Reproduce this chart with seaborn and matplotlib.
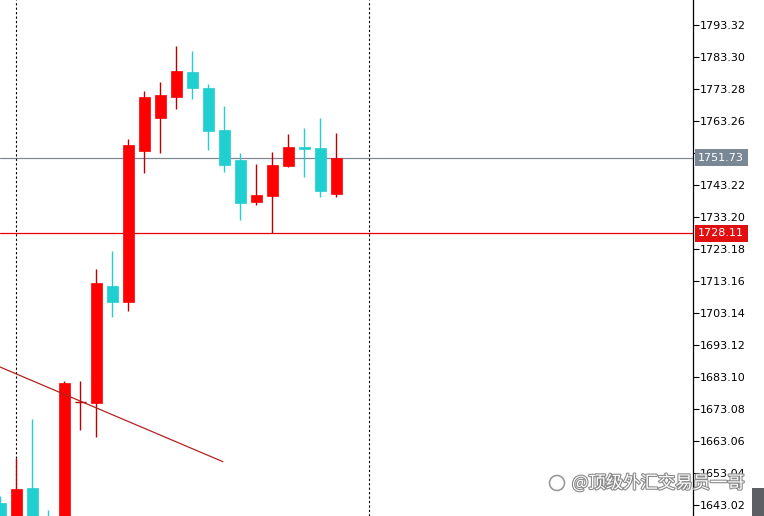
import numpy as np
import pandas as pd
import matplotlib
matplotlib.use("Agg")
import matplotlib.pyplot as plt
import seaborn as sns
from matplotlib import patheffects as pe
from matplotlib.patches import Rectangle, Ellipse
from matplotlib.transforms import blended_transform_factory

# ---- data ----
opens  = [1643.6, 1634.0, 1648.3, 1638.5, 1634.0, 1675.3, 1675.0, 1711.6, 1706.5, 1754.0, 1764.3,
          1770.9, 1778.7, 1773.7, 1760.5, 1751.0, 1738.0, 1739.8, 1749.2, 1755.0, 1754.9, 1740.4]
highs  = [1645.8, 1657.7, 1670.0, 1641.4, 1681.9, 1681.8, 1716.9, 1722.6, 1757.5, 1772.7, 1775.5,
          1786.8, 1785.3, 1775.0, 1768.0, 1753.3, 1749.8, 1753.6, 1759.1, 1761.2, 1764.1, 1759.4]
lows   = [1628.0, 1630.0, 1632.0, 1630.0, 1632.0, 1666.5, 1664.4, 1702.0, 1703.8, 1747.0, 1753.3,
          1767.0, 1770.2, 1754.3, 1747.4, 1732.3, 1737.0, 1728.1, 1748.8, 1745.8, 1739.6, 1739.4]
closes = [1632.0, 1648.0, 1636.0, 1634.0, 1681.1, 1675.3, 1712.6, 1706.7, 1755.7, 1770.9, 1771.4,
          1778.9, 1773.7, 1760.2, 1749.5, 1737.7, 1740.1, 1749.5, 1755.2, 1754.5, 1741.3, 1751.73]

ytick_values = [1643.02, 1653.04, 1663.06, 1673.08, 1683.10, 1693.12, 1703.14, 1713.16,
                1723.18, 1733.20, 1743.22, 1753.24, 1763.26, 1773.28, 1783.30, 1793.32]
ytick_labels = ["1643.02", "1653.04", "1663.06", "1673.08", "1683.10", "1693.12", "1703.14", "1713.16",
                "1723.18", "1733.20", "1743.22", "1753.24", "1763.26", "1773.28", "1783.30", "1793.32"]

bid_price = 1751.73
level_price = 1728.11
trend_x = [-0.03, 13.9]
trend_y = [1686.23, 1656.58]
separators = [1, 23]
watermark = "@顶级外汇交易员一哥"

UP = "#ff0000"
UP_WICK = "#c00000"
DOWN = "#20cfcf"

df = pd.DataFrame({"open": opens, "high": highs, "low": lows, "close": closes})
df["idx"] = np.arange(len(df))
df["up"] = df["close"] >= df["open"]

# ---- figure ----
sns.set_theme(style="white")
plt.rcParams["font.family"] = ["DejaVu Sans"]
fig = plt.figure(figsize=(7.64, 5.16), dpi=100)
ax = fig.add_axes([0, 0, 693 / 764, 1])
ax.set_facecolor("white")

for _, r in df.iterrows():
    body_c = UP if r["up"] else DOWN
    wick_c = UP_WICK if r["up"] else DOWN
    ax.vlines(r["idx"], r["low"], r["high"], color=wick_c, lw=1.0, zorder=2)
    bottom = min(r["open"], r["close"])
    height = abs(r["close"] - r["open"])
    if height < 0.3:
        ax.hlines(bottom, r["idx"] - 0.33, r["idx"] + 0.33, color=wick_c, lw=1.0, zorder=3)
    else:
        ax.bar(r["idx"], height, bottom=bottom, width=0.69, color=body_c,
               edgecolor=body_c, linewidth=0.5, zorder=3)

sns.lineplot(x=trend_x, y=trend_y, ax=ax, color="#b22222", lw=0.9, zorder=4)

ax.axhline(bid_price, color="#7f8a94", lw=0.9, zorder=1)
ax.axhline(level_price, color="#e80000", lw=0.9, zorder=1)
for s in separators:
    ax.axvline(s, color="black", lw=0.8, linestyle=(0, (2, 2)), zorder=1)

ax.set_xlim(-0.03, 43.28)
ax.set_ylim(1639.57, 1801.15)

for sp in ["top", "bottom", "left"]:
    ax.spines[sp].set_visible(False)
ax.spines["right"].set_color("black")
ax.spines["right"].set_linewidth(0.9)
ax.set_xticks([])
ax.yaxis.tick_right()
ax.set_yticks(ytick_values)
ax.set_yticklabels(ytick_labels)
ax.tick_params(axis="y", direction="out", length=4, width=0.8, colors="black",
               labelsize=8, pad=1, right=True, left=False)
ax.grid(False)

tr = blended_transform_factory(ax.transAxes, ax.transData)
ax.annotate(f"{bid_price:.2f}", xy=(1, bid_price), xycoords=tr, xytext=(3.8, 0),
            textcoords="offset points", ha="left", va="center", color="white", fontsize=8,
            bbox=dict(boxstyle="square,pad=0.32", fc="#7a8794", ec="none"), annotation_clip=False, zorder=10)
ax.annotate(f"{level_price:.2f}", xy=(1, level_price), xycoords=tr, xytext=(3.8, 0),
            textcoords="offset points", ha="left", va="center", color="white", fontsize=8,
            bbox=dict(boxstyle="square,pad=0.32", fc="#e01010", ec="none"), annotation_clip=False, zorder=10)

# watermark
fig.text(572 / 764, 1 - 483 / 516, watermark, fontsize=12.5,
         family=["Noto Sans CJK SC", "DejaVu Sans"], color="white", va="center", ha="left",
         path_effects=[pe.withStroke(linewidth=1.6, foreground="#8a8a8a")], zorder=20)
fig.add_artist(Ellipse((557 / 764, 1 - 483 / 516), 15 / 764, 15 / 516, fill=False,
                       ec="#9a9a9a", lw=1.2, zorder=20))
fig.add_artist(Rectangle((752 / 764, 0), 12 / 764, 28 / 516, transform=fig.transFigure,
                         fc="#5c5f63", ec="none", zorder=20))

fig.savefig("out.png", dpi=100, facecolor="white")
